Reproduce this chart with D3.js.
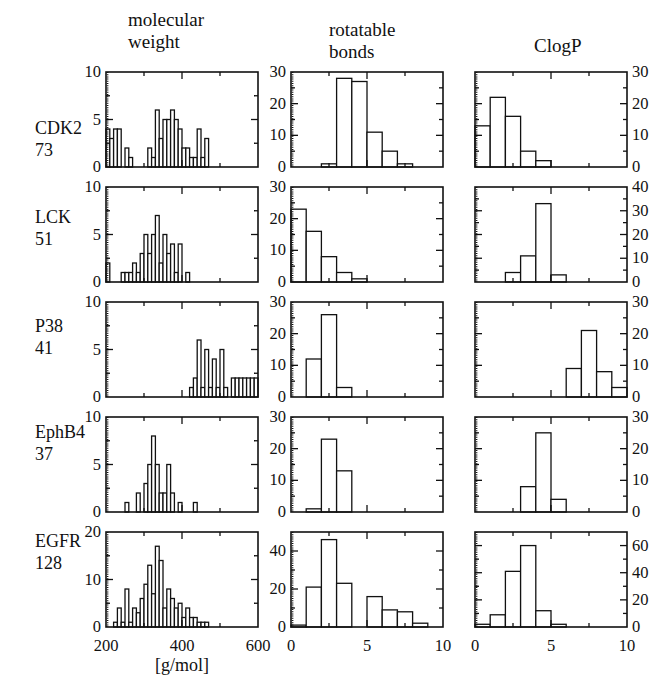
<!DOCTYPE html>
<html><head><meta charset="utf-8">
<script src="https://cdn.jsdelivr.net/npm/d3@7/dist/d3.min.js"></script>
<style>body{margin:0;background:#fff}svg{display:block}</style>
</head><body><svg id="c" width="656" height="675"></svg>
<script>
// ---- data ----
const targets = ["CDK2","LCK","P38","EphB4","EGFR"];
const targetN = [73,51,41,37,128];
const columnTitles = [["molecular","weight"],["rotatable","bonds"],["ClogP"]];
// molecular weight histograms: bins of 10 g/mol starting at 200
const mwBinStart = 200, mwBinWidth = 10;
const mwCDK2  = [4,3,4,4,0,2,1,0,0,0, 0,2,1,6,3,5,5,6,5,4, 2,2,1,1,4,1,3,0,0,0, 0,0,0,0,0,0,0,0,0,0];
const mwLCK   = [2,0,0,0,1,1,1,2,1,3, 5,3,5,7,2,5,3,4,1,4, 0,1,0,0,0,0,0,0,0,0, 0,0,0,0,0,0,0,0,0,0];
const mwP38   = [0,0,0,0,0,0,0,0,0,0, 0,0,0,0,0,0,0,0,0,0, 0,0,1,2,6,1,5,1,4,1, 5,1,0,2,2,2,2,2,2,2];
const mwEphB4 = [0,0,0,0,0,1,0,0,2,0, 3,5,8,5,2,2,5,2,0,1, 0,0,0,1,0,0,0,0,0,0, 0,0,0,0,0,0,0,0,0,0];
const mwEGFR  = [0,0,1,4,1,8,1,4,3,6, 9,13,7,17,14,4,8,6,4,5, 2,4,2,2,1,1,1,0,0,0, 0,0,0,0,0,0,0,0,0,0];
// rotatable bonds: bins of 1 starting at 0
const rbCDK2  = [0,0,1,28,27,11,5,1,0,0];
const rbLCK   = [23,16,8,3,1,0,0,0,0,0];
const rbP38   = [0,12,26,3,0,0,0,0,0,0];
const rbEphB4 = [0,1,23,13,0,0,0,0,0,0];
const rbEGFR  = [1,21,46,23,0,16,9,8,2,0];
// ClogP: bins of 1 starting at 0
const cpCDK2  = [13,22,16,5,2,0,0,0,0,0];
const cpLCK   = [0,0,4,11,33,3,0,0,0,0];
const cpP38   = [0,0,0,0,0,0,9,21,8,3];
const cpEphB4 = [0,0,0,8,25,4,0,0,0,0];
const cpEGFR  = [2,9,41,60,12,2,0,0,0,0];
// axis ranges and tick labels
const mwDomain = [200,600], mwTickLabels = [200,400,600];
const unitDomain = [0,10], unitTickLabels = [0,5,10];
const mwYMax = [10,10,10,10,20], mwYTicks = [[0,5,10],[0,5,10],[0,5,10],[0,5,10],[0,10,20]];
const rbYMax = [30,30,30,30,50], rbYTicks = [[0,10,20,30],[0,10,20,30],[0,10,20,30],[0,10,20,30],[0,20,40]];
const cpYMax = [30,40,30,30,70], cpYTicks = [[0,10,20,30],[0,10,20,30,40],[0,10,20,30],[0,10,20,30],[0,20,40,60]];
const xUnit = "[g/mol]";

const mwData = [mwCDK2,mwLCK,mwP38,mwEphB4,mwEGFR];
const rbData = [rbCDK2,rbLCK,rbP38,rbEphB4,rbEGFR];
const cpData = [cpCDK2,cpLCK,cpP38,cpEphB4,cpEGFR];

// ---- layout ----
const FONT = "'Liberation Serif', 'DejaVu Serif', 'Times New Roman', serif";
const svg = d3.select("#c");
const colLeft = [106, 291, 475], panelW = 152;
const rowTop = [72, 187, 302, 417, 532], panelH = 95;
const rowLabelY = [134, 223, 332, 438, 547];
const ink = "#111";
function txt(sel, x, y, s, size, anchor) {
  return sel.append("text").attr("x", x).attr("y", y).attr("font-family", FONT)
    .attr("font-size", size).attr("fill", ink).attr("text-anchor", anchor || "start").text(s);
}

const cols = [
  {data: mwData, start: mwBinStart, w: mwBinWidth, domain: mwDomain, xLabels: mwTickLabels, xMajor:[400], xMinor:[300,500], yMax: mwYMax, yTicks: mwYTicks, labelSide: "left"},
  {data: rbData, start: 0, w: 1, domain: unitDomain, xLabels: unitTickLabels, xMajor:[5], xMinor:[2.5,7.5], yMax: rbYMax, yTicks: rbYTicks, labelSide: "left"},
  {data: cpData, start: 0, w: 1, domain: unitDomain, xLabels: unitTickLabels, xMajor:[5], xMinor:[2.5,7.5], yMax: cpYMax, yTicks: cpYTicks, labelSide: "right"}
];

cols.forEach((col, ci) => {
  const x = d3.scaleLinear().domain(col.domain).range([colLeft[ci], colLeft[ci] + panelW]);
  targets.forEach((t, ri) => {
    const y = d3.scaleLinear().domain([0, col.yMax[ri]]).range([rowTop[ri] + panelH, rowTop[ri]]);
    const g = svg.append("g");
    const counts = col.data[ri];
    const bins = counts.map((c, i) => ({x0: col.start + i * col.w, x1: col.start + (i + 1) * col.w, c})).filter(b => b.c > 0);
    g.selectAll("rect.bar").data(bins).enter().append("rect")
      .attr("x", b => x(b.x0)).attr("width", b => x(b.x1) - x(b.x0))
      .attr("y", b => y(b.c)).attr("height", b => y(0) - y(b.c))
      .attr("fill", "#fff").attr("stroke", ink).attr("stroke-width", 1.3);
    // frame
    g.append("rect").attr("x", x.range()[0]).attr("y", y.range()[1])
      .attr("width", panelW).attr("height", panelH)
      .attr("fill", "none").attr("stroke", ink).attr("stroke-width", 1.6);
    // dotted fine ticks along left axis
    g.append("line").attr("x1", x.range()[0] + 1.6).attr("x2", x.range()[0] + 1.6)
      .attr("y1", y.range()[1]).attr("y2", y.range()[0])
      .attr("stroke", ink).attr("stroke-width", 1.6).attr("stroke-dasharray", "1,1.2");
    // y ticks
    const yt = col.yTicks[ri];
    const step = yt[1] - yt[0];
    const yMinor = [];
    for (let v = step / 2; v < col.yMax[ri]; v += step) yMinor.push(v);
    const x0 = x.range()[0], x1 = x.range()[1];
    [[yt, 7], [yMinor, 4]].forEach(([vals, len]) => {
      vals.forEach(v => {
        if (v <= 0 || v >= col.yMax[ri]) return;
        g.append("line").attr("x1", x0).attr("x2", x0 + len).attr("y1", y(v)).attr("y2", y(v)).attr("stroke", ink).attr("stroke-width", 1.3);
        g.append("line").attr("x1", x1).attr("x2", x1 - len).attr("y1", y(v)).attr("y2", y(v)).attr("stroke", ink).attr("stroke-width", 1.3);
      });
    });
    // y labels
    yt.forEach(v => {
      txt(g, col.labelSide === "left" ? x0 - 5 : x1 + 5, y(v) + 5, v, 16.5, col.labelSide === "left" ? "end" : "start");
    });
    // x ticks (top & bottom)
    const yb = y.range()[0], ytp = y.range()[1];
    [[col.xMajor, 7], [col.xMinor, 4]].forEach(([vals, len]) => {
      vals.forEach(v => {
        g.append("line").attr("x1", x(v)).attr("x2", x(v)).attr("y1", yb).attr("y2", yb - len).attr("stroke", ink).attr("stroke-width", 1.3);
        g.append("line").attr("x1", x(v)).attr("x2", x(v)).attr("y1", ytp).attr("y2", ytp + len).attr("stroke", ink).attr("stroke-width", 1.3);
      });
    });
    if (ri === targets.length - 1) {
      col.xLabels.forEach(v => txt(g, x(v), yb + 24, v, 16.5, "middle"));
      if (ci === 0) txt(g, (x0 + x1) / 2, yb + 44, xUnit, 18, "middle");
    }
  });
});

// row labels
targets.forEach((t, ri) => {
  txt(svg, 35, rowLabelY[ri], t, 18);
  txt(svg, 35, rowLabelY[ri] + 22, targetN[ri], 18);
});

// column titles
const titlePos = [[128, 26], [329, 36], [534, 52]];
columnTitles.forEach((lines, ci) => {
  lines.forEach((s, li) => txt(svg, titlePos[ci][0], titlePos[ci][1] + li * 22, s, 19));
});
</script></body></html>
